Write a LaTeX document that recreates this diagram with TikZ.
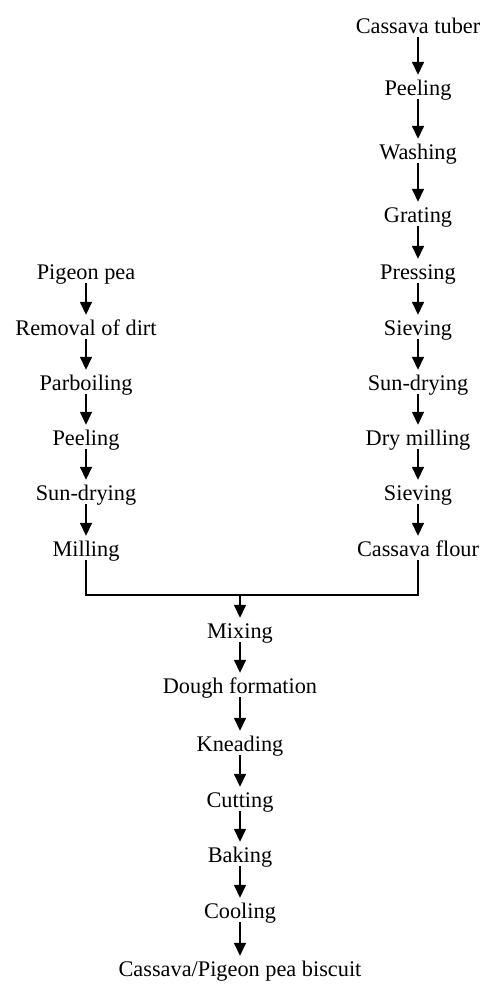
\documentclass[tikz,border=0pt]{standalone}
\usepackage{fontspec}
\setmainfont{Liberation Serif}
\usetikzlibrary{arrows.meta}
\begin{document}
\begin{tikzpicture}[x=1pt,y=-1pt,
  lbl/.style={anchor=base, inner sep=0pt, font=\fontsize{22.3}{24}\selectfont, text height=20pt, text depth=4pt},
  arr/.style={line width=1.5pt, -{Triangle[length=13pt,width=12pt]}},
  ln/.style={line width=1.5pt}]
\useasboundingbox (0,0) rectangle (500,985);
% right column
\node[lbl] (r1) at (418,33) {Cassava tuber};
\node[lbl] (r2) at (418,95) {Peeling};
\node[lbl] (r3) at (418,159) {Washing};
\node[lbl] (r4) at (418,222) {Grating};
\node[lbl] (r5) at (418,279) {Pressing};
\node[lbl] (r6) at (418,335) {Sieving};
\node[lbl] (r7) at (418,390) {Sun-drying};
\node[lbl] (r8) at (418,445) {Dry milling};
\node[lbl] (r9) at (418,500) {Sieving};
\node[lbl] (r10) at (418,556) {Cassava flour};
% left column
\node[lbl] (l1) at (86,279) {Pigeon pea};
\node[lbl] (l2) at (86,335) {Removal of dirt};
\node[lbl] (l3) at (86,390) {Parboiling};
\node[lbl] (l4) at (86,445) {Peeling};
\node[lbl] (l5) at (86,500) {Sun-drying};
\node[lbl] (l6) at (86,556) {Milling};
% bottom column
\coordinate (join) at (240,595);
\node[lbl] (b1) at (240,638) {Mixing};
\node[lbl] (b2) at (240,693) {Dough formation};
\node[lbl] (b3) at (240,751) {Kneading};
\node[lbl] (b4) at (240,807) {Cutting};
\node[lbl] (b5) at (240,862) {Baking};
\node[lbl] (b6) at (240,918) {Cooling};
\node[lbl] (b7) at (240,976) {Cassava/Pigeon pea biscuit};
% arrows
\foreach \a/\b in {r1/r2,r2/r3,r3/r4,r4/r5,r5/r6,r6/r7,r7/r8,r8/r9,r9/r10,
                   l1/l2,l2/l3,l3/l4,l4/l5,l5/l6,
                   b1/b2,b2/b3,b3/b4,b4/b5,b5/b6,b6/b7}
  \draw[arr] (\a.south) -- (\b.north);
\draw[ln] (l6.south) -- (l6.south |- join) -- (r10.south |- join) -- (r10.south);
\draw[arr] (join) -- (b1.north);
\end{tikzpicture}
\end{document}
